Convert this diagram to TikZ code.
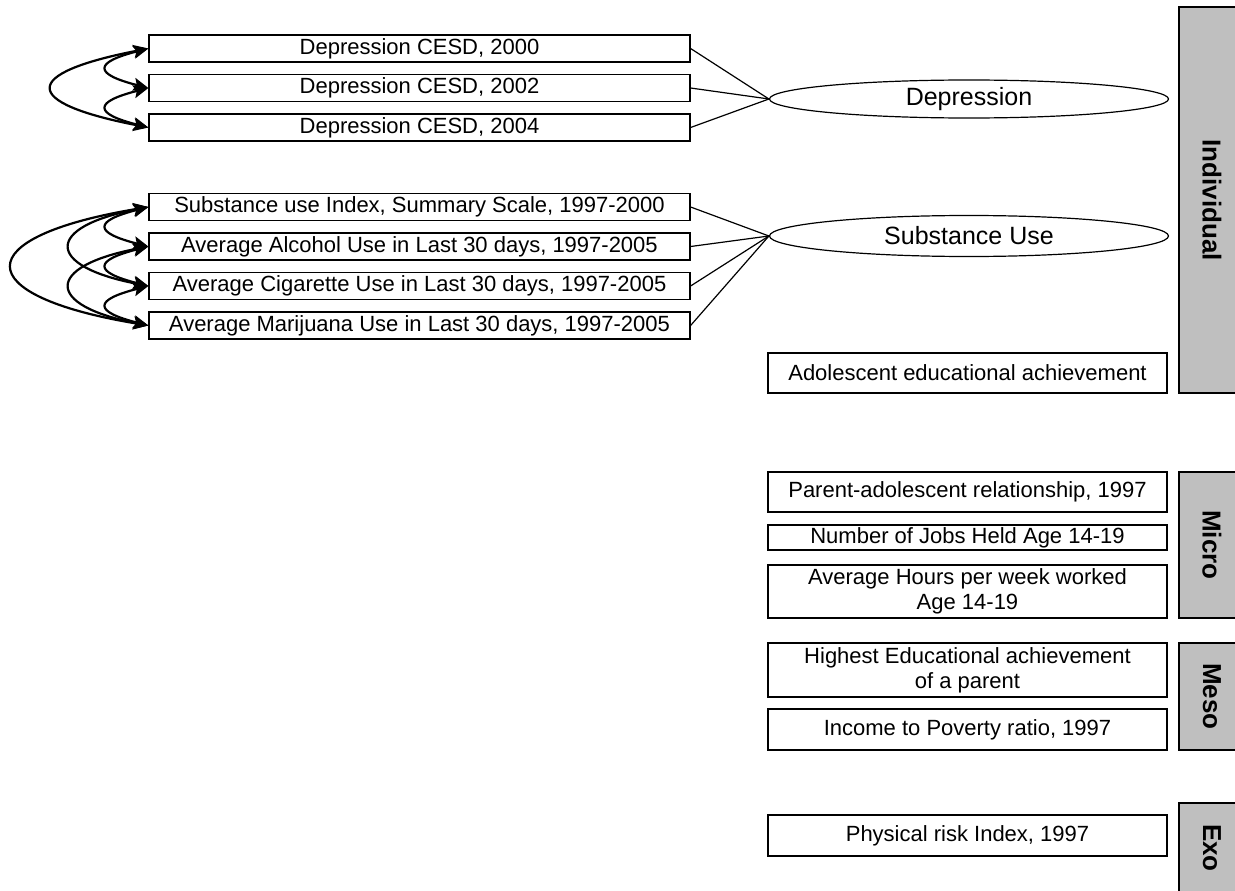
\documentclass[tikz,border=0pt]{standalone}
\usepackage{fontspec}
\setmainfont{Liberation Sans}
\usepackage{tikz}
\usetikzlibrary{shapes.geometric}
\usetikzlibrary{arrows.meta}

\begin{document}
\begin{tikzpicture}[x=1pt,y=-1pt,>={Stealth[length=15pt,width=13pt,inset=3pt]},node distance=39.5pt,
                    line width=1.2pt]
\tikzstyle{obs}=[draw=black,rectangle,inner sep=0pt,minimum width=541pt,minimum height=27pt]
\tikzstyle{item}=[draw=black,rectangle,inner sep=0pt,minimum width=399pt,align=center]
\tikzstyle{latent}=[draw=black,ellipse,inner sep=0pt,minimum width=399pt,font=\fontsize{25}{30}\selectfont]
\tikzstyle{level}=[draw=black,fill=black!25,rectangle,rotate=-90,inner sep=0pt,minimum height=66pt,font=\fontsize{26}{30}\selectfont\bfseries]
\tikzstyle{cov}=[<->,line width=2.2pt]
\tikzset{font=\fontsize{22}{25}\selectfont}

        \path[use as bounding box] (0,0) rectangle (1235,891);
        \clip (0,0) rectangle (1235,891);

        % depression indicators
        \node[obs]                (d1)   at (419.5,48.5)     {Depression CESD, 2000};
        \node[obs]                (d2)   [below of=d1]       {Depression CESD, 2002};
        \node[obs]                (d3)   [below of=d2]       {Depression CESD, 2004};

        % substance use indicators
        \node[obs]                (s1)   at (419.5,207)      {Substance use Index, Summary Scale, 1997-2000};
        \node[obs]                (s2)   [below of=s1]       {Average Alcohol Use in Last 30 days, 1997-2005};
        \node[obs]                (s3)   [below of=s2]       {Average Cigarette Use in Last 30 days, 1997-2005};
        \node[obs]                (s4)   [below of=s3]       {Average Marijuana Use in Last 30 days, 1997-2005};

        \node[latent,minimum height=38pt]   (dep)  at (969,99)   {Depression};
        \node[latent,minimum height=41pt]   (sub)  at (969,236)  {Substance Use};

        \node[item,minimum height=40pt]     (adol)  at (967.5,373)   {Adolescent educational achievement};
        \node[item,minimum height=40pt]     (par)   at (967.5,492)   {Parent-adolescent relationship, 1997};
        \node[item,minimum height=25pt]     (jobs)  at (967.5,537.5) {Number of Jobs Held Age 14-19};
        \node[item,minimum height=53pt]     (hours) at (967.5,591.5) {Average Hours per week worked\\Age 14-19};
        \node[item,minimum height=54pt]     (high)  at (967.5,670)   {Highest Educational achievement\\of a parent};
        \node[item,minimum height=41pt]     (inc)   at (967.5,729.5) {Income to Poverty ratio, 1997};
        \node[item,minimum height=41pt]     (phys)  at (967.5,835.5) {Physical risk Index, 1997};

        % levels
        \node[level,minimum width=386pt]    (ind)   at (1212,200)    {Individual};
        \node[level,minimum width=146pt]    (micro) at (1212,545)    {Micro};
        \node[level,minimum width=107pt]    (meso)  at (1212,696.5)  {Meso};
        \node[level,minimum width=90pt]     (exo)   at (1212,848)    {Exo};

        \path[draw]
        (d1.east)  edge  (dep.west)
        (d2.east)  edge  (dep.west)
        (d3.east)  edge  (dep.west)
        (s1.east)  edge  (sub.west)
        (s2.east)  edge  (sub.west)
        (s3.east)  edge  (sub.west)
        (s4.east)  edge  (sub.west)
        ; %end path

        % covariances
        \draw[cov] (d1.west) .. controls +(-55,14) and +(-55,-14) .. (d2.west);
        \draw[cov] (d2.west) .. controls +(-55,14) and +(-55,-14) .. (d3.west);
        \draw[cov] (d1.west) .. controls +(-128,25) and +(-128,-25) .. (d3.west);

        \draw[cov] (s1.west) .. controls +(-55,14) and +(-55,-14) .. (s2.west);
        \draw[cov] (s2.west) .. controls +(-55,14) and +(-55,-14) .. (s3.west);
        \draw[cov] (s3.west) .. controls +(-55,14) and +(-55,-14) .. (s4.west);
        \draw[cov] (s1.west) .. controls +(-104,20) and +(-104,-20) .. (s3.west);
        \draw[cov] (s2.west) .. controls +(-104,20) and +(-104,-20) .. (s4.west);
        \draw[cov] (s1.west) .. controls +(-181,30) and +(-181,-30) .. (s4.west);

\end{tikzpicture}
\end{document}
